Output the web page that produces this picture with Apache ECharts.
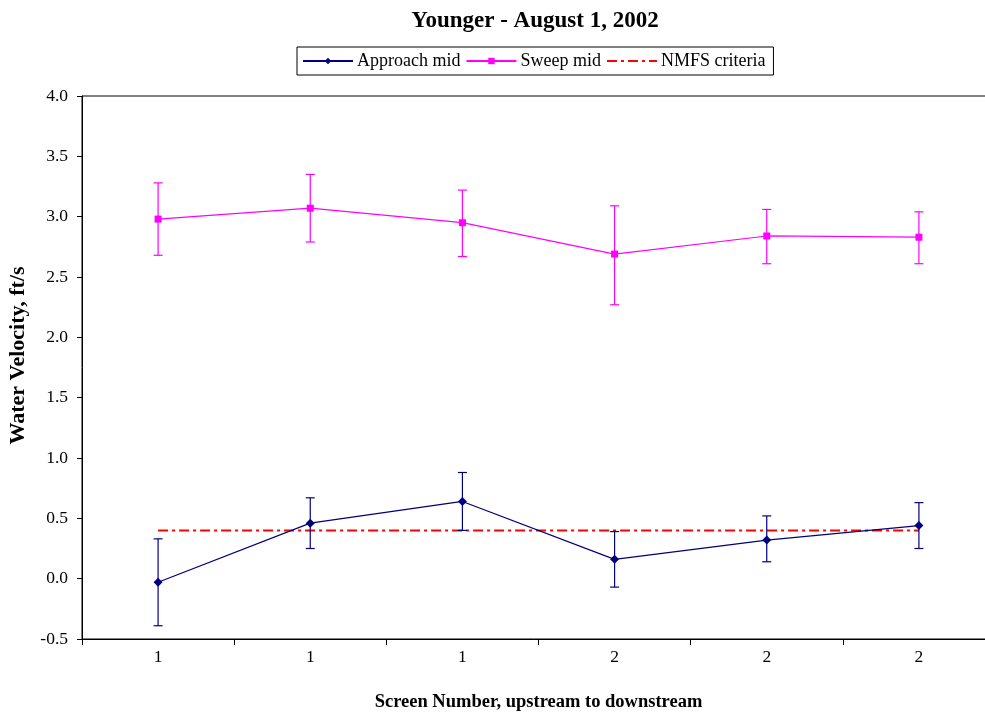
<!DOCTYPE html>
<html>
<head>
<meta charset="utf-8">
<script src="https://cdn.jsdelivr.net/npm/echarts@6/dist/echarts.min.js"></script>
<style>html,body{margin:0;padding:0;background:#fff}#c{width:985px;height:713px}</style>
</head>
<body>
<div id="c"></div>
<script>
const xLabels = ['1', '1', '1', '2', '2', '2'];
const approach = [-0.03, 0.46, 0.64, 0.16, 0.32, 0.44];
const approachLow = [-0.39, 0.25, 0.40, -0.07, 0.14, 0.25];
const approachHigh = [0.33, 0.67, 0.88, 0.39, 0.52, 0.63];
const sweep = [2.98, 3.07, 2.95, 2.69, 2.84, 2.83];
const sweepLow = [2.68, 2.79, 2.67, 2.27, 2.61, 2.61];
const sweepHigh = [3.28, 3.35, 3.22, 3.09, 3.06, 3.04];
const nmfs = [0.4, 0.4, 0.4, 0.4, 0.4, 0.4];
const yTicks = { min: -0.5, max: 4.0, step: 0.5 };

const FONT = '"Liberation Serif", "Times New Roman", serif';
const chart = echarts.init(document.getElementById('c'), null, { renderer: 'canvas' });

function errSeries(low, high, color) {
  return {
    type: 'custom',
    silent: true,
    z: 3,
    clip: false,
    data: low.map((l, i) => [i, l, high[i]]),
    renderItem: function (params, api) {
      const i = api.value(0);
      const p1 = api.coord([i, api.value(1)]);
      const p2 = api.coord([i, api.value(2)]);
      const w = 4.5;
      const style = { stroke: color, lineWidth: 1.2 };
      return {
        type: 'group',
        children: [
          { type: 'line', shape: { x1: p1[0], y1: p1[1], x2: p2[0], y2: p2[1] }, style: style },
          { type: 'line', shape: { x1: p1[0] - w, y1: p1[1], x2: p1[0] + w, y2: p1[1] }, style: style },
          { type: 'line', shape: { x1: p2[0] - w, y1: p2[1], x2: p2[0] + w, y2: p2[1] }, style: style }
        ]
      };
    }
  };
}

chart.setOption({
  animation: false,
  backgroundColor: '#fff',
  title: {
    text: 'Younger - August 1, 2002',
    left: 530, textAlign: 'center', top: 5,
    textStyle: { fontFamily: FONT, fontSize: 23, fontWeight: 'bold', color: '#000' }
  },
  legend: {
    data: ['Approach mid', 'Sweep mid', 'NMFS criteria'],
    left: 297, top: 47,
    borderColor: '#000', borderWidth: 1, borderRadius: 0,
    padding: [5, 8, 5, 5],
    itemGap: 5, itemWidth: 50, itemHeight: 8,
    textStyle: { fontFamily: FONT, fontSize: 18, color: '#000', padding: [0, 0, 0, -1] }
  },
  grid: { left: 82, top: 96, width: 913, height: 543, outerBoundsMode: 'none', show: true, borderColor: '#000', borderWidth: 1, containLabel: false },
  xAxis: {
    type: 'category',
    data: xLabels.map((_, i) => String(i)),
    boundaryGap: true,
    name: 'Screen Number, upstream to downstream',
    nameLocation: 'middle', nameGap: 54,
    nameTextStyle: { fontFamily: FONT, fontSize: 18.5, fontWeight: 'bold', color: '#000' },
    axisLine: { onZero: false, lineStyle: { color: '#000', width: 1 } },
    axisTick: { show: true, inside: false, length: 6, lineStyle: { color: '#000' } },
    axisLabel: { margin: 9, fontFamily: FONT, fontSize: 17.5, color: '#000', formatter: (v, i) => xLabels[i] },
    splitLine: { show: false }
  },
  yAxis: {
    type: 'value',
    min: yTicks.min, max: yTicks.max, interval: yTicks.step,
    name: 'Water Velocity, ft/s',
    nameLocation: 'middle', nameGap: 43, nameRotate: 90,
    nameTextStyle: { fontFamily: FONT, fontSize: 22, fontWeight: 'bold', color: '#000', padding: [0, 0, 0, 24] },
    axisLine: { show: true, lineStyle: { color: '#000', width: 1 } },
    axisTick: { show: true, inside: false, length: 5, lineStyle: { color: '#000' } },
    axisLabel: { margin: 14, fontFamily: FONT, fontSize: 17.5, color: '#000', formatter: v => v.toFixed(1) },
    splitLine: { show: false }
  },
  series: [
    {
      name: 'Approach mid', type: 'line', data: approach, z: 4,
      symbol: 'diamond', symbolSize: 9,
      itemStyle: { color: '#000080' },
      lineStyle: { color: '#000080', width: 1.2 }
    },
    {
      name: 'Sweep mid', type: 'line', data: sweep, z: 4,
      symbol: 'rect', symbolSize: 7,
      itemStyle: { color: '#FF00FF' },
      lineStyle: { color: '#FF00FF', width: 1.2 }
    },
    {
      name: 'NMFS criteria', type: 'line', data: nmfs, z: 2,
      symbol: 'none',
      itemStyle: { color: 'rgba(0,0,0,0)' },
      lineStyle: { color: '#FF0000', width: 2, type: [10, 4, 3, 4] }
    },
    errSeries(approachLow, approachHigh, '#000080'),
    errSeries(sweepLow, sweepHigh, '#FF00FF')
  ]
});
</script>
</body>
</html>
